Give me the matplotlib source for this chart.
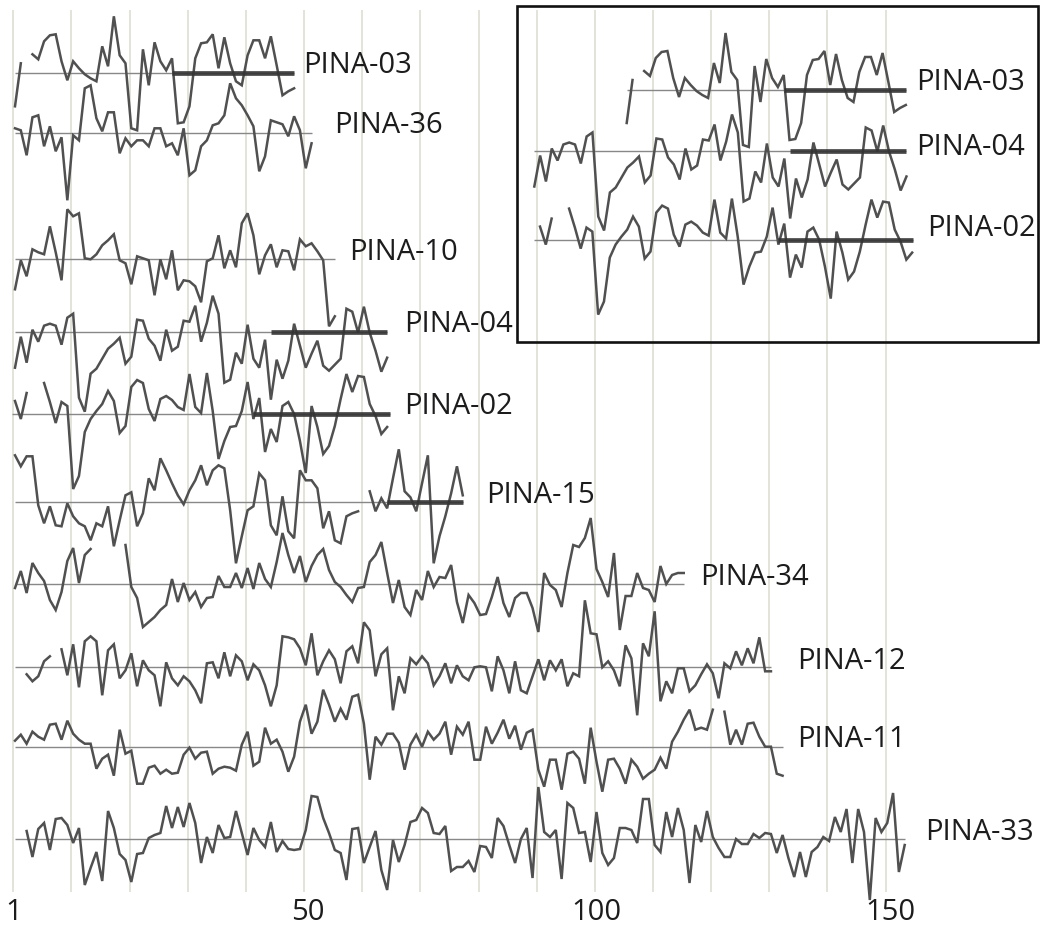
import numpy as np
import matplotlib
matplotlib.use("Agg")
import matplotlib.pyplot as plt
from matplotlib.patches import Rectangle

# ---- data: ring-width index deviations (None = missing ring) ----
pina03 = [-33, 10, None, 19, 14, 32, 38, 39, 12, -7,
          12, 5, -1, -5, -8, 27, 7, 57, 18, 10,
          -55, -57, 24, -12, 31, 12, 3, 15, -50, -49,
          -33, 15, 30, 31, 39, 5, 36, 10, -8, -12,
          18, 33, 33, 15, 37, 8, -22, -18, -15]
pina36 = [5, 3, -22, 16, 18, -13, 7, -18, -4, -67,
          -2, -7, 45, 48, 15, 2, 21, 21, -20, -5,
          -13, -7, -7, -13, 5, 5, -13, -10, -22, 5,
          -42, -37, -13, -7, 8, 10, 18, 50, 35, 28,
          18, 7, -38, -23, 13, 11, 9, -3, 17, 3,
          -35, -10]
pina10 = [-30, -1, -17, 10, 7, 5, 33, 7, -21, 50,
          43, 46, 1, 0, 5, 14, 19, 25, -1, -4,
          -25, 3, 1, -1, -36, 0, -20, 9, -31, -21,
          -22, -27, -43, -2, 1, 24, -9, 9, -8, 36,
          46, 24, -15, 4, 15, -8, 9, 8, -11, 20,
          13, 16, 8, -1, -67, -57]
pina04 = [-36, -5, -31, 2, -10, 6, 8, 6, -13, 14,
          18, -66, -80, -42, -37, -27, -17, -12, -6, -32,
          -25, 12, 11, -7, -14, -29, 2, -19, -15, 11,
          10, 26, -10, 9, 36, 18, -51, -48, -21, -32,
          7, -27, -36, -8, -68, -28, -47, -29, 8, -14,
          -36, -22, -9, -34, -39, -33, -27, 23, 20, -1,
          25, -1, -19, -40, -26]
pina02 = [13, -5, 21, None, None, 31, 12, -9, 12, 8,
          -75, -62, -18, -5, 3, 10, 23, 13, -19, -12,
          27, 34, 31, 5, -7, 15, 18, 14, 7, 4,
          40, 7, 1, 41, 3, -45, -27, -13, -12, 3,
          32, -5, 16, -38, -15, -28, 8, 12, 0, -27,
          -59, 8, -13, -40, -32, -12, 15, 40, 22, 38,
          37, 10, -2, -20, -13]
pina15 = [47, 36, 46, 46, -3, -21, -4, -23, -24, -1,
          -14, -21, -24, -38, -21, -24, -4, -44, -18, 7,
          10, -24, -11, 24, 12, 44, 32, 19, 7, -2,
          12, 22, 37, 17, 32, 37, 34, -8, -61, -34,
          -8, -4, 29, 22, -23, -33, 6, -29, -36, 32,
          22, 22, 14, -26, -9, -38, -41, -14, -11, -9,
          None, 11, -9, 4, -6, 24, 53, 11, 5, -9,
          19, 47, -61, -34, -14, 9, 36, 7]
pina34 = [-4, 13, -9, 21, 11, 3, -16, -26, -8, 23,
          36, 1, 29, 35, None, None, None, None, None, 39,
          -3, -14, -43, -38, -33, -26, -21, 5, -18, 1,
          -16, -8, -23, -14, -13, 8, -3, -3, 11, -4,
          16, -5, 21, 5, -3, 22, 51, 29, 11, 28,
          2, 18, 29, 35, 14, 2, -3, -11, -18, -4,
          -3, 22, 29, 42, 11, -19, 4, -23, -31, -6,
          -16, 13, -3, 7, 6, 19, -18, -39, -11, -19,
          -31, -30, -13, 7, -19, -33, -14, -9, -9, -24,
          -48, 11, -1, -6, -23, 11, 39, 37, 46, 66,
          15, 2, -13, 31, -46, -12, -12, 11, -4, -6,
          -18, 18, 0, 9, 11, 11]
pina12 = [None, None, -7, -14, -9, 6, 11, None, 18, -8,
          23, -20, 26, 31, 26, -28, 17, 23, -11, -3,
          14, -19, 7, -3, -8, -39, 5, -11, -18, -9,
          -14, -23, -36, 4, 5, -11, 15, -9, 12, 6,
          -13, 3, -3, -18, -39, -18, 31, 30, 28, 19,
          2, 34, -8, 6, 17, 8, -16, 16, 21, 4,
          45, 37, -9, 13, 19, -43, -9, -26, 9, 3,
          11, 4, -18, -9, 4, -16, 2, -9, -13, 0,
          1, 0, -24, 11, -3, -26, 6, -23, -26, -9,
          8, -13, 7, -3, 8, -19, -6, -9, 67, 34,
          33, 0, 6, -3, -19, 22, 9, -48, 24, 11,
          56, -34, -14, -26, -1, -1, -24, -18, -7, 3,
          -6, -31, 4, -1, 16, 2, 19, 4, 30, -4,
          -4]
pina11 = [6, 12, 3, 15, 10, 7, 22, 23, 7, 26,
          13, 7, 3, 3, -22, -12, -8, -29, 17, -7,
          -4, -37, -37, -21, -19, -27, -23, -27, -26, -8,
          -1, -12, -6, -5, -27, -22, -20, -21, -24, 2,
          15, -19, -15, 19, 3, 7, -5, -25, -10, 25,
          42, 13, 25, 57, 42, 25, 38, 27, 50, 52,
          23, -33, 10, 2, 13, 13, 4, -23, 2, 12,
          0, 15, 7, 13, 25, -8, 20, 12, 25, -13,
          -13, 20, 3, 14, 27, 8, 21, -3, 14, 17,
          -23, -40, -13, -13, -43, -7, -5, -12, -37, 19,
          -15, -45, -13, -12, -22, -37, -13, -20, -32, -27,
          -23, -11, -22, 5, 15, 27, 37, 17, 19, 17,
          37, None, 35, 2, 17, 2, 23, 24, 10, 0,
          0, -27, -29]
pina33 = [None, None, 8, -18, 10, 16, -11, 20, 21, 14,
          -4, 11, -46, -29, -13, -42, 28, 11, -15, -21,
          -43, -15, -14, 1, 4, 6, 33, 11, 32, 12,
          36, 16, -24, 2, -14, 14, 1, 2, 28, 6,
          -16, 11, -1, -8, 17, -13, -2, -10, -11, -10,
          9, 43, 42, 21, 6, -11, -14, -41, 10, 11,
          -24, -8, 8, -31, -51, -1, -23, -6, 17, 19,
          31, 26, 6, 5, 13, -32, -28, -28, -22, -33,
          -7, -8, -19, 21, 13, -6, -24, 0, 11, -39,
          52, 7, 2, 9, -40, 36, 31, 6, 7, -23,
          27, -14, -26, -19, 11, 11, 9, -4, 40, 40,
          -6, -13, 27, 2, 31, 9, -44, 14, -3, 28,
          2, -9, -18, -18, 0, -5, -5, 5, 1, 6,
          5, -14, 4, -19, -38, -13, -38, -13, -8, 2,
          -2, 22, 7, 30, -24, 30, 7, -61, 21, 7,
          16, 46, -33, -6]

tick_labels = ["1", "50", "100", "150"]

# ---- layout helpers (pixel geometry of the reference) ----
W, H = 1041, 940
PX0, PXU = 13.3, 5.815          # pixel of x=0 and pixels per ring


def px2x(p):
    return (p - PX0) / PXU


fig = plt.figure(figsize=(W / 100, H / 100), dpi=100)
ax = fig.add_axes([0, 0, 1, 1])
ax.set_xlim(px2x(0), px2x(W))
ax.set_ylim(H, 0)
ax.axis("off")

FONT = dict(family=["Open Sans", "DejaVu Sans"], size=21, color="#1c1c1c")

# vertical grid
ax.vlines(np.arange(0, 151, 10), 10, 892, color="#dcdbd0", lw=1.1, zorder=0)

# series: name, values, baseline px, first-ring px, baseline span, sapwood bar, label px
specs = [
    ("PINA-03", pina03, 73.3, 15, (0, 48), (27, 48), (303, 73)),
    ("PINA-36", pina36, 133.3, 15, (0, 51), None, (334, 133)),
    ("PINA-10", pina10, 259.3, 15, (0, 55), None, (349, 260)),
    ("PINA-04", pina04, 331.7, 15, (0, 64), (44, 64), (404, 332)),
    ("PINA-02", pina02, 414.0, 15, (-0.6, 64.5), (41, 64.5), (404, 414)),
    ("PINA-15", pina15, 502.3, 15, (0, 77), (64, 77), (486, 503)),
    ("PINA-34", pina34, 584.0, 15, (0, 115), None, (700, 585)),
    ("PINA-12", pina12, 667.3, 15, (0, 130), None, (797, 669)),
    ("PINA-11", pina11, 746.7, 15, (0, 132), None, (797, 747)),
    ("PINA-33", pina33, 839.0, 15, (0, 153), None, (925, 840)),
    # inset
    ("PINA-03", pina03, 90.0, 626.7, (0, 48), (27, 48), (916, 90)),
    ("PINA-04", pina04, 150.5, 534.3, (0, 64), (44, 64), (916, 155)),
    ("PINA-02", pina02, 239.6, 540.0, (-1, 64.2), (41, 64.2), (927, 236)),
]

for name, vals, base, start_px, span, bar, lab in specs:
    v = np.array(vals, dtype=float)
    x0 = px2x(start_px)
    xs = x0 + np.arange(len(v))
    ax.plot([x0 + span[0], x0 + span[1]], [base, base], color="#888888",
            lw=1.0, zorder=1, solid_capstyle="butt")
    ax.plot(xs, base - v, color="#505050", lw=1.8, zorder=2,
            solid_joinstyle="miter")
    if bar is not None:
        ax.plot([x0 + bar[0], x0 + bar[1]], [base, base], color="#333333",
                lw=3.4, alpha=0.9, zorder=3, solid_capstyle="butt")
    ax.text(px2x(lab[0]), lab[1], name, ha="left", va="baseline", **FONT)

# inset frame
ax.add_patch(Rectangle((px2x(516.7), 5.7), px2x(1038) - px2x(516.7), 336,
                       fill=False, ec="#111111", lw=1.9, zorder=4,
                       clip_on=False))

# x tick labels
for pos, lbl in zip([0, 50.6, 100.3, 150.8], tick_labels):
    ax.text(pos, 912, lbl, ha="center", va="center", **FONT)

fig.savefig("out.png", dpi=100)
